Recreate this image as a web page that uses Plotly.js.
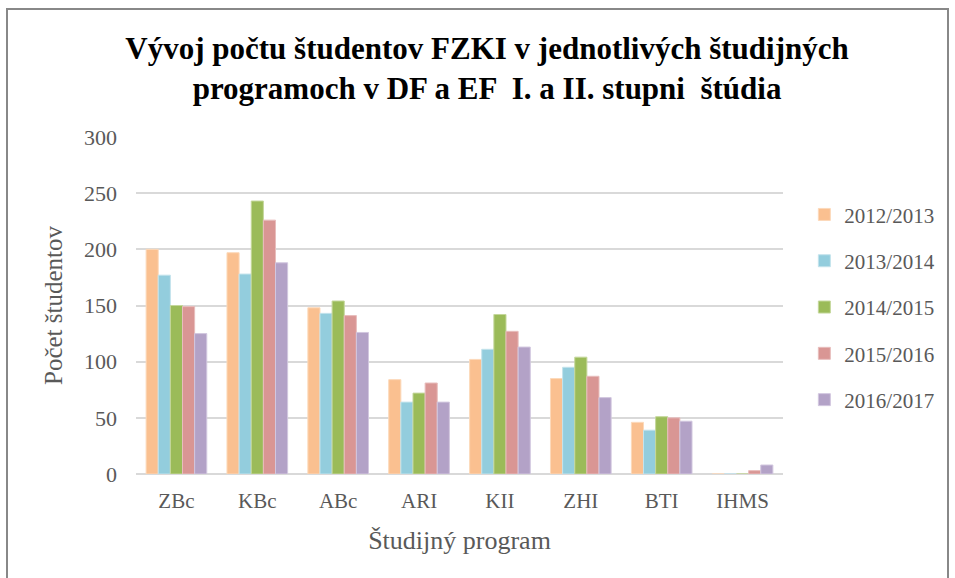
<!DOCTYPE html>
<html>
<head>
<meta charset="utf-8">
<script src="https://cdn.plot.ly/plotly-3.0.1.min.js"></script>
<style>
  html, body { margin: 0; padding: 0; background: #fff; }
  #chart { width: 955px; height: 578px; }
  #frame { position: absolute; left: 6px; top: 8px; width: 943px; height: 600px; border: 2px solid #888; box-sizing: border-box; pointer-events: none; }
</style>
</head>
<body>
<div id="chart"></div>
<div id="frame"></div>
<script>
const categories = ["ZBc", "KBc", "ABc", "ARI", "KII", "ZHI", "BTI", "IHMS"];
const seriesNames = ["2012/2013", "2013/2014", "2014/2015", "2015/2016", "2016/2017"];
const s2012 = [200, 197, 148, 84, 102, 85, 46, 0];
const s2013 = [177, 178, 143, 64, 111, 95, 39, 0];
const s2014 = [150, 243, 154, 72, 142, 104, 51, 0];
const s2015 = [149, 226, 141, 81, 127, 87, 50, 3];
const s2016 = [125, 188, 126, 64, 113, 68, 47, 8];
const yTicks = [0, 50, 100, 150, 200, 250, 300];

const values = [s2012, s2013, s2014, s2015, s2016];
const colors = ["#FAC090", "#93CDDD", "#9BBB59", "#D99694", "#B3A2C7"];
const edge = ["#FCD9BA", "#C3E3EC", "#C4D79B", "#E8BDBC", "#D2C7DF"];

const serif = "'Liberation Serif', 'Times New Roman', serif";

const traces = values.map((v, i) => ({
  type: "bar",
  name: seriesNames[i],
  x: categories,
  y: v,
  legendgroup: "g" + i,
  marker: { color: colors[i], line: { color: edge[i], width: 1 } },
  hoverinfo: "x+y+name"
}));

const layout = {
  width: 955,
  height: 578,
  paper_bgcolor: "#fff",
  plot_bgcolor: "#fff",
  margin: { l: 136, r: 172, t: 137, b: 104, autoexpand: false },
  barmode: "group",
  bargap: 0.25,
  bargroupgap: 0,
  title: {
    text: "<b>Vývoj počtu študentov FZKI v jednotlivých študijných<br>programoch v DF a EF  I. a II. stupni  štúdia</b>",
    font: { family: serif, size: 31, color: "#000" },
    x: 0.51,
    xanchor: "center",
    yref: "container",
    y: 0.898,
    yanchor: "middle"
  },
  xaxis: {
    tickvals: categories,
    ticktext: categories,
    tickfont: { family: serif, size: 21, color: "#595959" },
    showgrid: false,
    showline: false,
    ticks: "",
    ticklen: 0,
    ticklabelstandoff: 12,
    title: { text: "Študijný program", font: { family: serif, size: 26, color: "#595959" }, standoff: 18 }
  },
  yaxis: {
    range: [0, 300],
    tickvals: yTicks,
    ticktext: yTicks.map(String),
    tickfont: { family: serif, size: 22, color: "#595959" },
    gridcolor: "#D9D9D9",
    gridwidth: 2,
    zeroline: true,
    zerolinecolor: "#D9D9D9",
    zerolinewidth: 2,
    showline: false,
    ticks: "",
    ticklabelstandoff: 18,
    title: { text: "Počet študentov", font: { family: serif, size: 25, color: "#595959" }, standoff: 14 }
  },
  legend: {
    x: 1.033,
    xanchor: "left",
    y: 0.83,
    yanchor: "top",
    traceorder: "grouped",
    tracegroupgap: 16,
    font: { family: serif, size: 21, color: "#595959" },
    itemwidth: 30
  },
  showlegend: true
};

Plotly.newPlot("chart", traces, layout, { displayModeBar: false, staticPlot: true });
</script>
</body>
</html>
